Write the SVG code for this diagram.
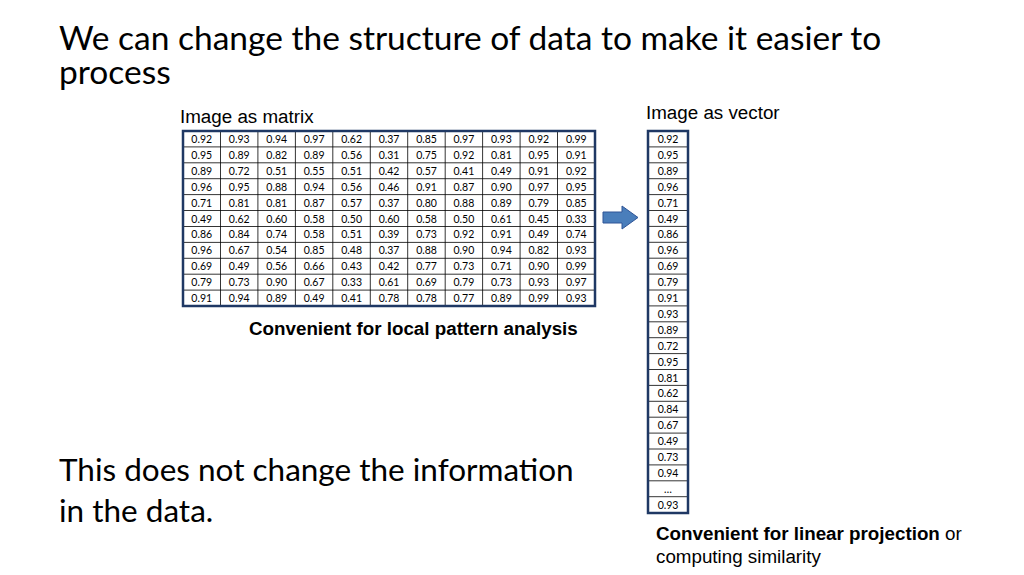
<svg xmlns="http://www.w3.org/2000/svg" width="1024" height="575" viewBox="0 0 1024 575">
<style>
.t{font-family:"Lato","Liberation Sans",sans-serif;fill:#000}
.c{font-family:"Lato","Liberation Sans",sans-serif;font-size:10.5px;text-anchor:middle;fill:#000}
.l{font-family:"Liberation Sans",sans-serif;font-size:18.8px;fill:#000}
.g{stroke:#000;stroke-width:0.8}
.o{fill:none;stroke:#1f3864;stroke-width:2.5}
</style>
<rect width="1024" height="575" fill="#fff"/>
<text class="t" x="59" y="50" font-size="33.5">We can change the structure of data to make it easier to</text>
<text class="t" x="59" y="84" font-size="33.5">process</text>
<text class="t" x="59" y="481" font-size="31.5">This does not change the information</text>
<text class="t" x="59" y="522" font-size="31.5">in the data.</text>
<text class="l" x="180" y="123">Image as matrix</text>
<text class="l" x="646" y="119">Image as vector</text>
<text class="l" x="249" y="335" font-weight="bold">Convenient for local pattern analysis</text>
<text class="l" x="656" y="540"><tspan font-weight="bold">Convenient for linear projection</tspan> or</text>
<text class="l" x="656" y="563">computing similarity</text>
<g id="matrix">
<g class="g">
<line x1="220.5" y1="131" x2="220.5" y2="306"/><line x1="257.9" y1="131" x2="257.9" y2="306"/><line x1="295.4" y1="131" x2="295.4" y2="306"/><line x1="332.8" y1="131" x2="332.8" y2="306"/><line x1="370.3" y1="131" x2="370.3" y2="306"/><line x1="407.7" y1="131" x2="407.7" y2="306"/><line x1="445.2" y1="131" x2="445.2" y2="306"/><line x1="482.6" y1="131" x2="482.6" y2="306"/><line x1="520.1" y1="131" x2="520.1" y2="306"/><line x1="557.5" y1="131" x2="557.5" y2="306"/>
<line x1="183" y1="146.9" x2="595" y2="146.9"/><line x1="183" y1="162.8" x2="595" y2="162.8"/><line x1="183" y1="178.7" x2="595" y2="178.7"/><line x1="183" y1="194.6" x2="595" y2="194.6"/><line x1="183" y1="210.5" x2="595" y2="210.5"/><line x1="183" y1="226.5" x2="595" y2="226.5"/><line x1="183" y1="242.4" x2="595" y2="242.4"/><line x1="183" y1="258.3" x2="595" y2="258.3"/><line x1="183" y1="274.2" x2="595" y2="274.2"/><line x1="183" y1="290.1" x2="595" y2="290.1"/>
</g>
<rect class="o" x="183" y="131" width="412" height="175"/>
<g class="c">
<text y="143"><tspan x="201.7">0.92</tspan><tspan x="239.2">0.93</tspan><tspan x="276.7">0.94</tspan><tspan x="314.1">0.97</tspan><tspan x="351.6">0.62</tspan><tspan x="389">0.37</tspan><tspan x="426.5">0.85</tspan><tspan x="463.9">0.97</tspan><tspan x="501.4">0.93</tspan><tspan x="538.8">0.92</tspan><tspan x="576.3">0.99</tspan></text>
<text y="158.9"><tspan x="201.7">0.95</tspan><tspan x="239.2">0.89</tspan><tspan x="276.7">0.82</tspan><tspan x="314.1">0.89</tspan><tspan x="351.6">0.56</tspan><tspan x="389">0.31</tspan><tspan x="426.5">0.75</tspan><tspan x="463.9">0.92</tspan><tspan x="501.4">0.81</tspan><tspan x="538.8">0.95</tspan><tspan x="576.3">0.91</tspan></text>
<text y="174.8"><tspan x="201.7">0.89</tspan><tspan x="239.2">0.72</tspan><tspan x="276.7">0.51</tspan><tspan x="314.1">0.55</tspan><tspan x="351.6">0.51</tspan><tspan x="389">0.42</tspan><tspan x="426.5">0.57</tspan><tspan x="463.9">0.41</tspan><tspan x="501.4">0.49</tspan><tspan x="538.8">0.91</tspan><tspan x="576.3">0.92</tspan></text>
<text y="190.7"><tspan x="201.7">0.96</tspan><tspan x="239.2">0.95</tspan><tspan x="276.7">0.88</tspan><tspan x="314.1">0.94</tspan><tspan x="351.6">0.56</tspan><tspan x="389">0.46</tspan><tspan x="426.5">0.91</tspan><tspan x="463.9">0.87</tspan><tspan x="501.4">0.90</tspan><tspan x="538.8">0.97</tspan><tspan x="576.3">0.95</tspan></text>
<text y="206.6"><tspan x="201.7">0.71</tspan><tspan x="239.2">0.81</tspan><tspan x="276.7">0.81</tspan><tspan x="314.1">0.87</tspan><tspan x="351.6">0.57</tspan><tspan x="389">0.37</tspan><tspan x="426.5">0.80</tspan><tspan x="463.9">0.88</tspan><tspan x="501.4">0.89</tspan><tspan x="538.8">0.79</tspan><tspan x="576.3">0.85</tspan></text>
<text y="222.5"><tspan x="201.7">0.49</tspan><tspan x="239.2">0.62</tspan><tspan x="276.7">0.60</tspan><tspan x="314.1">0.58</tspan><tspan x="351.6">0.50</tspan><tspan x="389">0.60</tspan><tspan x="426.5">0.58</tspan><tspan x="463.9">0.50</tspan><tspan x="501.4">0.61</tspan><tspan x="538.8">0.45</tspan><tspan x="576.3">0.33</tspan></text>
<text y="238.4"><tspan x="201.7">0.86</tspan><tspan x="239.2">0.84</tspan><tspan x="276.7">0.74</tspan><tspan x="314.1">0.58</tspan><tspan x="351.6">0.51</tspan><tspan x="389">0.39</tspan><tspan x="426.5">0.73</tspan><tspan x="463.9">0.92</tspan><tspan x="501.4">0.91</tspan><tspan x="538.8">0.49</tspan><tspan x="576.3">0.74</tspan></text>
<text y="254.3"><tspan x="201.7">0.96</tspan><tspan x="239.2">0.67</tspan><tspan x="276.7">0.54</tspan><tspan x="314.1">0.85</tspan><tspan x="351.6">0.48</tspan><tspan x="389">0.37</tspan><tspan x="426.5">0.88</tspan><tspan x="463.9">0.90</tspan><tspan x="501.4">0.94</tspan><tspan x="538.8">0.82</tspan><tspan x="576.3">0.93</tspan></text>
<text y="270.2"><tspan x="201.7">0.69</tspan><tspan x="239.2">0.49</tspan><tspan x="276.7">0.56</tspan><tspan x="314.1">0.66</tspan><tspan x="351.6">0.43</tspan><tspan x="389">0.42</tspan><tspan x="426.5">0.77</tspan><tspan x="463.9">0.73</tspan><tspan x="501.4">0.71</tspan><tspan x="538.8">0.90</tspan><tspan x="576.3">0.99</tspan></text>
<text y="286.1"><tspan x="201.7">0.79</tspan><tspan x="239.2">0.73</tspan><tspan x="276.7">0.90</tspan><tspan x="314.1">0.67</tspan><tspan x="351.6">0.33</tspan><tspan x="389">0.61</tspan><tspan x="426.5">0.69</tspan><tspan x="463.9">0.79</tspan><tspan x="501.4">0.73</tspan><tspan x="538.8">0.93</tspan><tspan x="576.3">0.97</tspan></text>
<text y="302"><tspan x="201.7">0.91</tspan><tspan x="239.2">0.94</tspan><tspan x="276.7">0.89</tspan><tspan x="314.1">0.49</tspan><tspan x="351.6">0.41</tspan><tspan x="389">0.78</tspan><tspan x="426.5">0.78</tspan><tspan x="463.9">0.77</tspan><tspan x="501.4">0.89</tspan><tspan x="538.8">0.99</tspan><tspan x="576.3">0.93</tspan></text>
</g>
</g>
<g id="connectors">
<path d="M603,212 H622 V206 L638,217.5 L622,229 V223 H603 Z" fill="#4a7ebb" stroke="#2f5597" stroke-width="1"/>
</g>
<g id="vector">
<g class="g">
<line x1="648" y1="146.9" x2="688" y2="146.9"/><line x1="648" y1="162.8" x2="688" y2="162.8"/><line x1="648" y1="178.7" x2="688" y2="178.7"/><line x1="648" y1="194.6" x2="688" y2="194.6"/><line x1="648" y1="210.5" x2="688" y2="210.5"/><line x1="648" y1="226.4" x2="688" y2="226.4"/><line x1="648" y1="242.3" x2="688" y2="242.3"/><line x1="648" y1="258.2" x2="688" y2="258.2"/><line x1="648" y1="274.1" x2="688" y2="274.1"/><line x1="648" y1="290" x2="688" y2="290"/><line x1="648" y1="305.9" x2="688" y2="305.9"/><line x1="648" y1="321.8" x2="688" y2="321.8"/><line x1="648" y1="337.7" x2="688" y2="337.7"/><line x1="648" y1="353.6" x2="688" y2="353.6"/><line x1="648" y1="369.5" x2="688" y2="369.5"/><line x1="648" y1="385.4" x2="688" y2="385.4"/><line x1="648" y1="401.3" x2="688" y2="401.3"/><line x1="648" y1="417.2" x2="688" y2="417.2"/><line x1="648" y1="433.1" x2="688" y2="433.1"/><line x1="648" y1="449" x2="688" y2="449"/><line x1="648" y1="464.9" x2="688" y2="464.9"/><line x1="648" y1="480.8" x2="688" y2="480.8"/><line x1="648" y1="496.7" x2="688" y2="496.7"/>
</g>
<rect class="o" x="648" y="131" width="40" height="382"/>
<g class="c">
<text x="668" y="143">0.92</text><text x="668" y="158.9">0.95</text><text x="668" y="174.8">0.89</text><text x="668" y="190.7">0.96</text><text x="668" y="206.6">0.71</text><text x="668" y="222.5">0.49</text><text x="668" y="238.4">0.86</text><text x="668" y="254.3">0.96</text><text x="668" y="270.2">0.69</text><text x="668" y="286.1">0.79</text><text x="668" y="302">0.91</text><text x="668" y="317.9">0.93</text><text x="668" y="333.8">0.89</text><text x="668" y="349.7">0.72</text><text x="668" y="365.6">0.95</text><text x="668" y="381.5">0.81</text><text x="668" y="397.4">0.62</text><text x="668" y="413.3">0.84</text><text x="668" y="429.2">0.67</text><text x="668" y="445.1">0.49</text><text x="668" y="461">0.73</text><text x="668" y="476.9">0.94</text><text x="668" y="492.8">…</text><text x="668" y="508.7">0.93</text>
</g>
</g>
</svg>
